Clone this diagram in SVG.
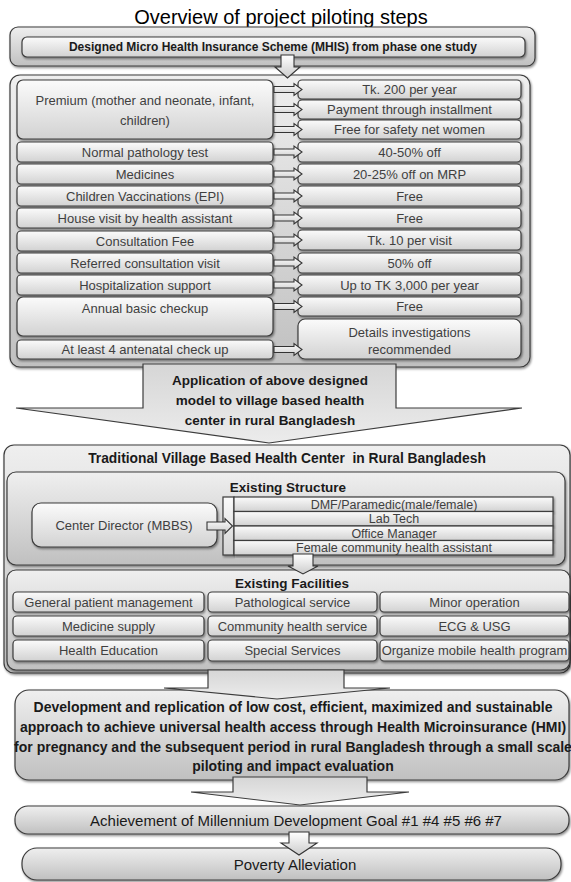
<svg xmlns="http://www.w3.org/2000/svg" width="571" height="882" viewBox="0 0 571 882">
<defs>
<linearGradient id="gBox" x1="0" y1="0" x2="0" y2="1"><stop offset="0" stop-color="#fbfbfb"/><stop offset="1" stop-color="#d2d2d2"/></linearGradient>
<linearGradient id="gOuter" x1="0" y1="0" x2="0" y2="1"><stop offset="0" stop-color="#efefef"/><stop offset="1" stop-color="#c0c0c0"/></linearGradient>
<linearGradient id="gArrow" x1="0" y1="0" x2="0" y2="1"><stop offset="0" stop-color="#d6d6d6"/><stop offset="1" stop-color="#ececec"/></linearGradient>
<linearGradient id="gSmall" x1="0" y1="0" x2="0" y2="1"><stop offset="0" stop-color="#ffffff"/><stop offset="1" stop-color="#cccccc"/></linearGradient>
<filter id="sh" x="-5%" y="-10%" width="110%" height="130%"><feDropShadow dx="1" dy="1.5" stdDeviation="0.8" flood-color="#000" flood-opacity="0.45"/></filter>
</defs>
<style>
.box{fill:url(#gBox);stroke:#3c3c3c;stroke-width:1.2;filter:url(#sh)}
.outer{fill:url(#gOuter);stroke:#3c3c3c;stroke-width:1.2;filter:url(#sh)}
.arr{fill:url(#gSmall);stroke:#333;stroke-width:1.1}
.big{fill:url(#gArrow);stroke:#3c3c3c;stroke-width:1.2}
text{font-family:"Liberation Sans",Arial,sans-serif;text-anchor:middle}
.t{font-size:13px;fill:#3f3f3f}
.s{font-size:12.5px;fill:#3f3f3f}
.h{font-weight:bold;fill:#1a1a1a}
</style>

<text id="title" x="281" y="24" font-size="20" fill="#000">Overview of project piloting steps</text>

<g id="n-mhis">
<rect class="outer" x="10" y="27" width="525" height="39" rx="8"/>
<rect class="box" x="22" y="37" width="503" height="20" rx="5"/>
<text class="h" x="273" y="51.3" font-size="12">Designed Micro Health Insurance Scheme (MHIS) from phase one study</text>
</g>

<g id="n-scheme">
<rect class="outer" x="10" y="75" width="520" height="292" rx="10"/>
<g id="left-col">
<rect class="box" x="17" y="80" width="256" height="59" rx="6"/>
<text class="t" x="145" y="104.7">Premium (mother and neonate, infant,</text>
<text class="t" x="145" y="124.7">children)</text>
<rect class="box" x="17" y="142" width="256" height="20" rx="4"/>
<text class="t" x="145" y="156.7">Normal pathology test</text>
<rect class="box" x="17" y="164" width="256" height="20" rx="4"/>
<text class="t" x="145" y="178.7">Medicines</text>
<rect class="box" x="17" y="186" width="256" height="20" rx="4"/>
<text class="t" x="145" y="200.7">Children Vaccinations (EPI)</text>
<rect class="box" x="17" y="208" width="256" height="20" rx="4"/>
<text class="t" x="145" y="222.7">House visit by health assistant</text>
<rect class="box" x="17" y="231" width="256" height="20" rx="4"/>
<text class="t" x="145" y="245.7">Consultation Fee</text>
<rect class="box" x="17" y="253" width="256" height="20" rx="4"/>
<text class="t" x="145" y="267.7">Referred consultation visit</text>
<rect class="box" x="17" y="275" width="256" height="20" rx="4"/>
<text class="t" x="145" y="289.7">Hospitalization support</text>
<rect class="box" x="17" y="297" width="256" height="39" rx="6"/>
<text class="t" x="145" y="312.7">Annual basic checkup</text>
<rect class="box" x="17" y="340" width="256" height="19" rx="4"/>
<text class="t" x="145" y="354.2">At least 4 antenatal check up</text>
</g>
<g id="right-col">
<rect class="box" x="298" y="80" width="223" height="19" rx="4"/>
<text class="t" x="409.5" y="94.2">Tk. 200 per year</text>
<rect class="box" x="298" y="100" width="223" height="19" rx="4"/>
<text class="t" x="409.5" y="114.2">Payment through installment</text>
<rect class="box" x="298" y="120" width="223" height="19" rx="4"/>
<text class="t" x="409.5" y="134.2">Free for safety net women</text>
<rect class="box" x="298" y="142" width="223" height="20" rx="4"/>
<text class="t" x="409.5" y="156.7">40-50% off</text>
<rect class="box" x="298" y="164" width="223" height="20" rx="4"/>
<text class="t" x="409.5" y="178.7">20-25% off on MRP</text>
<rect class="box" x="298" y="186" width="223" height="20" rx="4"/>
<text class="t" x="409.5" y="200.7">Free</text>
<rect class="box" x="298" y="208" width="223" height="20" rx="4"/>
<text class="t" x="409.5" y="222.7">Free</text>
<rect class="box" x="298" y="230" width="223" height="20" rx="4"/>
<text class="t" x="409.5" y="244.7">Tk. 10 per visit</text>
<rect class="box" x="298" y="253" width="223" height="20" rx="4"/>
<text class="t" x="409.5" y="267.7">50% off</text>
<rect class="box" x="298" y="275" width="223" height="20" rx="4"/>
<text class="t" x="409.5" y="289.7">Up to TK 3,000 per year</text>
<rect class="box" x="298" y="297" width="223" height="19" rx="4"/>
<text class="t" x="409.5" y="311.2">Free</text>
<rect class="box" x="298" y="319" width="223" height="40" rx="7"/>
<text class="t" x="409.5" y="336.7">Details investigations</text>
<text class="t" x="409.5" y="353.7">recommended</text>
</g>
</g>

<g id="n-application">
<path class="big" d="M143,364H396V408H522L269,443L16,408H143Z"/>
<text class="h" x="270" y="384.8" font-size="13.5">Application of above designed</text>
<text class="h" x="270" y="404.8" font-size="13.5">model to village based health</text>
<text class="h" x="270" y="424.8" font-size="13.5">center in rural Bangladesh</text>
</g>

<g id="n-village">
<rect class="outer" x="4" y="445" width="566" height="228" rx="10"/>
<text class="h" x="287" y="462.8" font-size="13.8" style="white-space:pre">Traditional Village Based Health Center  in Rural Bangladesh</text>
<g id="n-structure">
<rect class="outer" x="7" y="472" width="558" height="93" rx="9"/>
<text class="h" x="288" y="491.8" font-size="13.5">Existing Structure</text>
<rect class="box" x="32" y="503" width="185" height="44" rx="9"/>
<text class="t" x="124" y="529.7">Center Director (MBBS)</text>
<rect class="box" x="223" y="497" width="11" height="58"/>
<rect class="box" x="234" y="497" width="319" height="14.5"/>
<rect class="box" x="234" y="511.5" width="319" height="14.5"/>
<rect class="box" x="234" y="526" width="319" height="14.5"/>
<rect class="box" x="234" y="540.5" width="319" height="14.5"/>
<text class="s" x="394" y="508.9">DMF/Paramedic(male/female)</text>
<text class="s" x="394" y="523.4">Lab Tech</text>
<text class="s" x="394" y="537.9">Office Manager</text>
<text class="s" x="394" y="552.4">Female community health assistant</text>
</g>
<g id="n-facilities">
<rect class="outer" x="7" y="570" width="563" height="100" rx="9"/>
<text class="h" x="292" y="587.8" font-size="13.5">Existing Facilities</text>
<rect class="box" x="13" y="592" width="191" height="20" rx="4"/>
<rect class="box" x="208" y="592" width="169" height="20" rx="4"/>
<rect class="box" x="380" y="592" width="189" height="20" rx="4"/>
<rect class="box" x="13" y="616" width="191" height="20" rx="4"/>
<rect class="box" x="208" y="616" width="169" height="20" rx="4"/>
<rect class="box" x="380" y="616" width="189" height="20" rx="4"/>
<rect class="box" x="13" y="640" width="191" height="21" rx="4"/>
<rect class="box" x="208" y="640" width="169" height="21" rx="4"/>
<rect class="box" x="380" y="640" width="189" height="21" rx="4"/>
<text class="t" x="108.5" y="606.7">General patient management</text>
<text class="t" x="292.5" y="606.7">Pathological service</text>
<text class="t" x="474.5" y="606.7">Minor operation</text>
<text class="t" x="108.5" y="630.7">Medicine supply</text>
<text class="t" x="292.5" y="630.7">Community health service</text>
<text class="t" x="474.5" y="630.7">ECG &amp; USG</text>
<text class="t" x="108.5" y="655.2">Health Education</text>
<text class="t" x="292.5" y="655.2">Special Services</text>
<text class="t" x="474.5" y="655.2">Organize mobile health program</text>
</g>
</g>

<g id="n-development">
<rect class="outer" x="15" y="690" width="554" height="90" rx="14"/>
<text class="h" x="293" y="712" font-size="14">Development and replication of low cost, efficient, maximized and sustainable</text>
<text class="h" x="293" y="732" font-size="14">approach to achieve universal health access through Health Microinsurance (HMI)</text>
<text class="h" x="293" y="752" font-size="14">for pregnancy and the subsequent period in rural Bangladesh through a small scale</text>
<text class="h" x="293" y="771" font-size="14">piloting and impact evaluation</text>
</g>

<g id="n-mdg">
<rect class="outer" x="15" y="806" width="554" height="28" rx="13"/>
<text x="296" y="826.4" font-size="15" fill="#1a1a1a">Achievement of Millennium Development Goal #1 #4 #5 #6 #7</text>
</g>

<g id="n-poverty">
<rect class="outer" x="22" y="848" width="539" height="32" rx="15"/>
<text x="295" y="870.4" font-size="15" fill="#1a1a1a">Poverty Alleviation</text>
</g>

<g id="connectors">
<path class="arr" d="M281,55H294V67H300L287.5,78L275,67H281Z"/>
<path class="arr" d="M274,86.5H294V83.5L302,89.5L294,95.5V92.5H274Z"/>
<path class="arr" d="M274,106.5H294V103.5L302,109.5L294,115.5V112.5H274Z"/>
<path class="arr" d="M274,126.5H294V123.5L302,129.5L294,135.5V132.5H274Z"/>
<path class="arr" d="M274,149H294V146L302,152L294,158V155H274Z"/>
<path class="arr" d="M274,171H294V168L302,174L294,180V177H274Z"/>
<path class="arr" d="M274,193H294V190L302,196L294,202V199H274Z"/>
<path class="arr" d="M274,215H294V212L302,218L294,224V221H274Z"/>
<path class="arr" d="M274,237H294V234L302,240L294,246V243H274Z"/>
<path class="arr" d="M274,260H294V257L302,263L294,269V266H274Z"/>
<path class="arr" d="M274,282H294V279L302,285L294,291V288H274Z"/>
<path class="arr" d="M274,303.5H294V300.5L302,306.5L294,312.5V309.5H274Z"/>
<path class="arr" d="M274,346.5H294V343.5L302,349.5L294,355.5V352.5H274Z"/>
<path class="arr" d="M207,522H225V518.5L232.5,526L225,533.5V530H207Z"/>
<path class="arr" d="M293,554H313V566H318L303,574L288,566H293Z"/>
<path class="big" d="M208,670H344V688H390L277,699L164,688H208Z"/>
<path class="big" d="M233,777H367V792H409L300,805L191,792H233Z"/>
<path class="arr" d="M289,832H309V843H317L299,855L281,843H289Z"/>
</g>
</svg>
